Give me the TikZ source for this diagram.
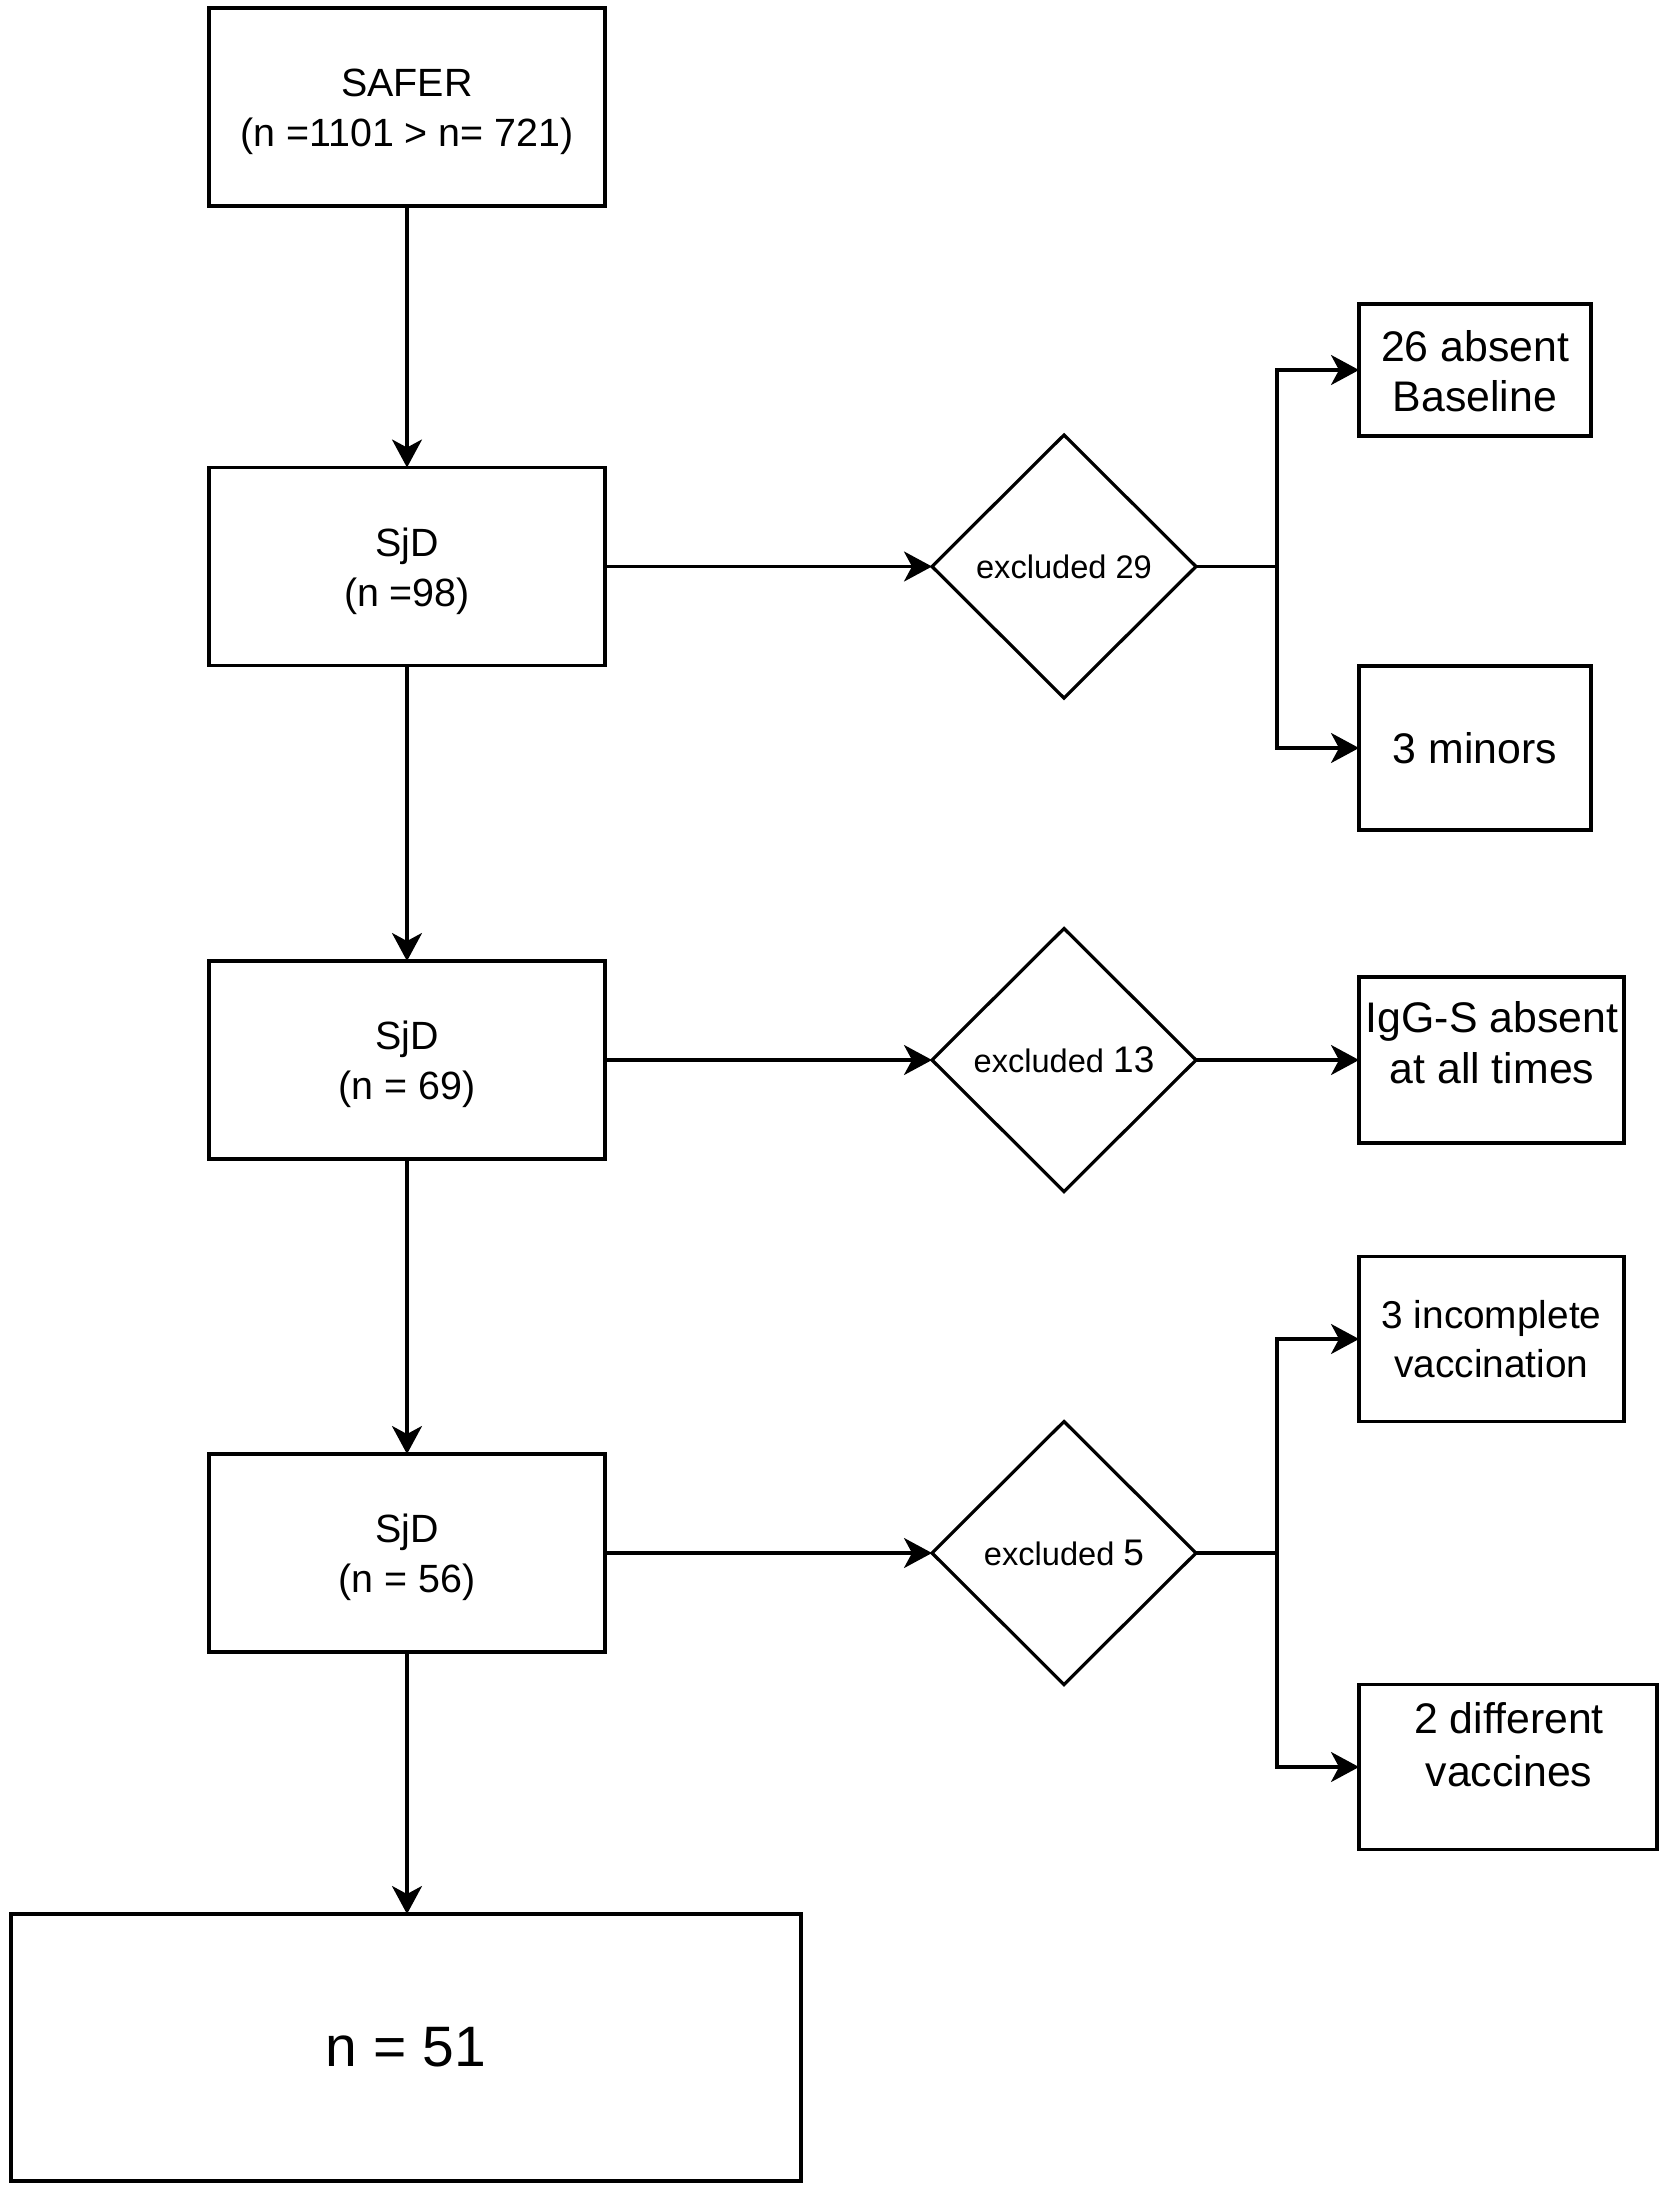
\documentclass[tikz,border=0pt]{standalone}
\usepackage{fontspec}
\setmainfont{Liberation Sans}
\usetikzlibrary{shapes.geometric,arrows.meta}
\newcommand\mytopstrut{\rule{0pt}{19pt}}
\begin{document}
\begin{tikzpicture}[x=0.5pt,y=-0.5pt,
  every node/.style={inner sep=0pt, outer sep=0pt},
  mainbox/.style={draw, line width=1.6pt, align=center, minimum width=198pt, minimum height=99pt,
     font=\fontsize{19.7}{25}\selectfont},
  sidebox/.style={draw, line width=1.6pt, align=center, font=\fontsize{21.4}{25}\selectfont},
  sidetext/.style={align=center, font=\fontsize{21.4}{25.5}\selectfont},
  decision/.style={draw, diamond, line width=1.6pt, aspect=1, minimum width=132pt, minimum height=131.5pt,
     font=\fontsize{16.3}{20}\selectfont},
  conn/.style={line width=1.6pt},
  arr/.style={line width=1.6pt, -{Stealth[length=14pt,width=15pt,inset=4pt]}}
]
\useasboundingbox (0,0) rectangle (1666,2191);

% main column
\node[mainbox] (safer) at (407,107) {\mytopstrut SAFER\\(n =1101 > n= 721)};
\node[mainbox] (sjd1) at (407,566.5) {\mytopstrut SjD\\(n =98)};
\node[mainbox] (sjd2) at (407,1060) {\mytopstrut SjD\\(n = 69)};
\node[mainbox] (sjd3) at (407,1553) {\mytopstrut SjD\\(n = 56)};
\node[draw, line width=1.6pt, minimum width=395pt, minimum height=133.5pt,
      font=\fontsize{28.5}{32}\selectfont] (final) at (406,2047.5) {n = 51};

% decisions
\node[decision] (d1) at (1064,566.5) {excluded 29};
\node[decision] (d2) at (1064,1060) {excluded {\fontsize{18.5}{20}\selectfont 13}};
\node[decision] (d3) at (1064,1553) {excluded {\fontsize{18.5}{20}\selectfont 5}};

% side boxes
\node[sidebox, minimum width=116pt, minimum height=66pt] (ba) at (1475,370) {\rule{0pt}{17pt}26 absent\\Baseline};
\node[sidebox, minimum width=116pt, minimum height=82pt] (bb) at (1475,748) {3 minors};
\node[sidebox, minimum width=132.5pt, minimum height=83pt] (bc) at (1491.5,1060) {};
\node[sidetext] (bctext) at (1492,1043) {IgG-S absent\\at all times};
\node[sidebox, minimum width=132.5pt, minimum height=82.5pt, font=\fontsize{19.4}{24.5}\selectfont] (bd) at (1491.5,1339) {3 incomplete\\vaccination};
\node[sidebox, minimum width=149pt, minimum height=82.5pt] (be) at (1508,1767) {};
\node[sidetext, font=\fontsize{21.4}{26.5}\selectfont] (betext) at (1509,1745) {2 different\\vaccines};

% junctions
\coordinate (j1) at (1277,566.5);
\coordinate (j3) at (1277,1553);

% vertical arrows
\draw[arr] (safer.south) -- (sjd1.north);
\draw[arr] (sjd1.south) -- (sjd2.north);
\draw[arr] (sjd2.south) -- (sjd3.north);
\draw[arr] (sjd3.south) -- (final.north -| sjd3.south);

% horizontal arrows
\draw[arr] (sjd1.east) -- (d1.west);
\draw[arr] (sjd2.east) -- (d2.west);
\draw[arr] (sjd3.east) -- (d3.west);

\draw[conn] (d1.east) -- (j1);
\draw[arr] (j1) |- (ba.west);
\draw[arr] (j1) |- (bb.west);

\draw[arr] (d2.east) -- (bc.west);

\draw[conn] (d3.east) -- (j3);
\draw[arr] (j3) |- (bd.west);
\draw[arr] (j3) |- (be.west);
\end{tikzpicture}
\end{document}
